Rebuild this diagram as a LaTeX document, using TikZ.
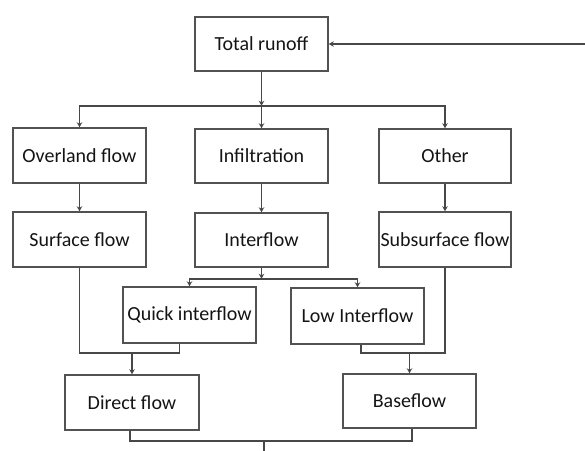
\documentclass[tikz,border=0pt]{standalone}
\usepackage{fontspec}
\setmainfont{Carlito}
\usetikzlibrary{arrows.meta,calc}
\begin{document}
\begin{tikzpicture}[x=1pt,y=-1pt,
  box/.style={draw=black!68,line width=1.5pt,minimum width=133pt,minimum height=55pt,inner sep=0pt,
    text=black!92,font=\fontsize{20}{23}\selectfont},
  conn/.style={draw=black!72,line width=1.5pt},
  arr/.style={conn,-{Stealth[length=5pt,width=5.5pt]}}]
\useasboundingbox (0,0) rectangle (585,450);
\node[box,minimum height=54pt] (tr) at (261.5,44) {Total runoff};
\node[box] (ov) at (79.5,155.5) {Overland flow};
\node[box,minimum height=54pt] (inf) at (261.5,156) {Infiltration};
\node[box,minimum width=132pt,minimum height=54pt] (oth) at (445,156) {Other};
\node[box] (sf) at (79.5,239.5) {Surface flow};
\node[box,minimum height=54pt] (intf) at (261.5,240) {Interflow};
\node[box,minimum width=132pt] (ssf) at (445,239.5) {Subsurface flow};
\node[box,minimum height=56pt] (qi) at (189.5,315) {Quick interflow};
\node[box,minimum height=56pt] (li) at (357.5,316) {Low Interflow};
\node[box,minimum width=134pt] (df) at (132,402.5) {Direct flow};
\node[box,minimum height=54pt] (bf) at (409.5,401) {Baseflow};
% input
\coordinate (in) at (585,44);
\draw[arr] (in) -- (tr.east);
% split 1
\coordinate (j1) at ($(tr.south)+(0,34)$);
\draw[arr] (tr.south) -- (j1);
\draw[arr] (j1) -| (ov.north);
\draw[arr] (j1) -- (inf.north);
\draw[arr] (j1) -| (oth.north);
% column arrows
\draw[arr] (ov.south) -- (sf.north);
\draw[arr] (inf.south) -- (intf.north);
\draw[arr] (oth.south) -- (ssf.north);
% interflow split
\coordinate (j2) at ($(intf.south)+(0,11)$);
\draw[arr] (intf.south) -- (j2);
\draw[arr] (j2) -| (qi.north);
\draw[arr] (j2) -| (li.north);
% merge points
\coordinate (m1) at (0,353);
\coordinate (m2) at (0,441);
\coordinate (qa) at ($(qi.south)+(-10,0)$);
\coordinate (la) at ($(li.south)+(3.5,0)$);
\coordinate (da) at ($(df.south)+(-2,0)$);
\coordinate (ba) at ($(bf.south)+(2.5,0)$);
% left merge
\draw[conn] (sf.south) -- (sf.south |- m1) -| (qa);
\draw[arr] (df.north |- m1) -- (df.north);
% right merge
\draw[conn] (la) -- (la |- m1) -| (ssf.south);
\draw[arr] (bf.north |- m1) -- (bf.north);
% bottom merge
\draw[conn] (da) -- (da |- m2) -| (ba);
\coordinate (out) at (264,451);
\draw[conn] (out |- m2) -- (out);
\end{tikzpicture}
\end{document}
